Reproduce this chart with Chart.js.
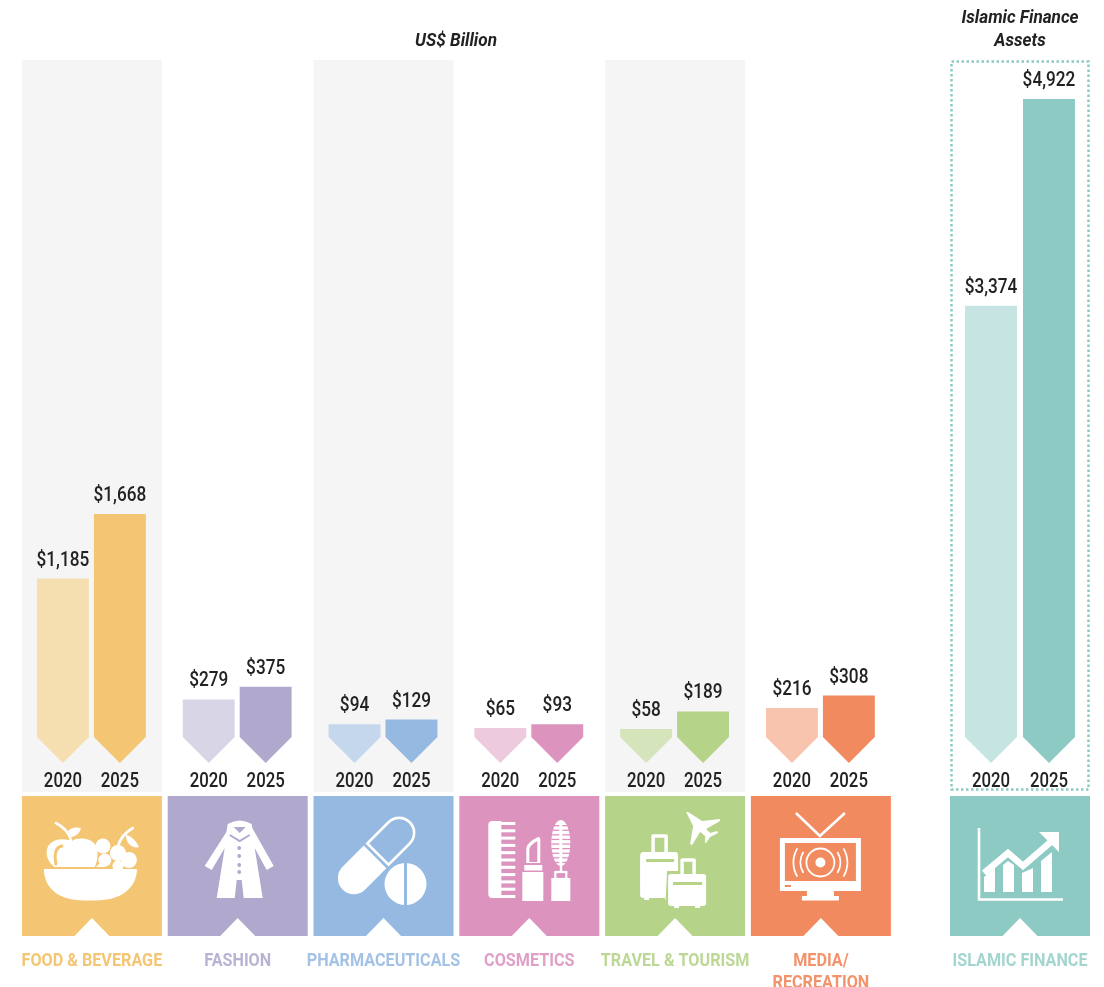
<!DOCTYPE html>
<html lang="en">
<head>
  <meta charset="UTF-8">
  <title>Halal economy spend and Islamic finance assets</title>
  <script src="https://cdn.jsdelivr.net/npm/chart.js"></script>
  <style>
    html, body { margin: 0; padding: 0; background: #fff; }
    body { position: relative; width: 1104px; height: 987px; overflow: hidden; }
    canvas { position: absolute; top: 0; }
    #sectorChart { left: 0; }
    #financeChart { left: 905px; }
  </style>
</head>
<body>
  <canvas id="sectorChart" width="905" height="987"></canvas>
  <canvas id="financeChart" width="199" height="987"></canvas>

  <script>
    // Data
    const sectorNames = ['FOOD & BEVERAGE', 'FASHION', 'PHARMACEUTICALS', 'COSMETICS', 'TRAVEL & TOURISM', 'MEDIA/|RECREATION'];
    const sector2020 = [1185, 279, 94, 65, 58, 216];
    const sector2025 = [1668, 375, 129, 93, 189, 308];
    const financeNames = ['ISLAMIC FINANCE'];
    const finance2020 = [3374];
    const finance2025 = [4922];
    const years = ['2020', '2025'];

    // Colours per sector
    const sectorDark = ['#f4c572', '#b0a9cd', '#96b9e2', '#dc94bf', '#b5d389', '#f28a5f'];
    const sectorLight = ['#f5dfb0', '#d8d5e6', '#c4d7ed', '#eecade', '#d5e4bb', '#f8c4ae'];
    const financeDark = ['#8ccac3'];
    const financeLight = ['#c6e5e2'];
    const sectorText = ['#f4c572', '#b9b3d3', '#a3c2e6', '#e09fc6', '#bdd796', '#f3936b'];
    const financeText = ['#a3d5cf'];

    const TEXT = '#222222';

    // squeezed text, Roboto Condensed is not available here
    function label(ctx, text, x, y, font, color, squeeze) {
      ctx.save();
      ctx.font = font;
      ctx.fillStyle = color;
      ctx.textAlign = 'center';
      ctx.textBaseline = 'alphabetic';
      ctx.translate(x, y);
      ctx.scale(squeeze, 1);
      ctx.fillText(text, 0, 0);
      ctx.restore();
    }

    function fillPath(ctx, d) { ctx.fill(new Path2D(d)); }
    function circle(ctx, x, y, r) { ctx.beginPath(); ctx.arc(x, y, r, 0, Math.PI * 2); ctx.fill(); }
    function line(ctx, pts, w) {
      ctx.lineWidth = w;
      ctx.beginPath();
      pts.forEach((p, i) => i ? ctx.lineTo(p[0], p[1]) : ctx.moveTo(p[0], p[1]));
      ctx.stroke();
    }

    // Tile icons, coordinates are local to the 140x140 tile
    const icons = [
      function bowl(ctx, bg) {
        fillPath(ctx, 'M22,73 H115 C115,90 102,100 88,103 C75,105 60,105 48,103 C34,100 22,90 22,73 Z');
        fillPath(ctx, 'M33,71 C24,66 22,52 29,47 C35,42 44,43 50,45 C56,41 68,42 73,48 C77,55 76,64 73,71 Z');
        ctx.strokeStyle = bg; ctx.lineCap = 'round';
        ctx.beginPath(); ctx.moveTo(40,50); ctx.quadraticCurveTo(31,52, 34,68); ctx.lineWidth = 3; ctx.stroke();
        ctx.strokeStyle = '#fff';
        ctx.beginPath(); ctx.moveTo(34,27); ctx.quadraticCurveTo(46,33, 49,44); ctx.lineWidth = 2.6; ctx.stroke();
        fillPath(ctx, 'M46,35 C50,31 54,31 59,32 C58,38 52,41 49,41 Z');
        ctx.beginPath(); ctx.moveTo(96,50); ctx.quadraticCurveTo(100,38, 111,32); ctx.lineWidth = 2.6; ctx.stroke();
        fillPath(ctx, 'M104,39 C110,40 115,46 117,51 C111,53 104,48 104,39 Z');
        [[81,50,7.5],[96,57,8],[107,64,8],[83,64,6.5],[96,70,5.5]].forEach(g => {
          circle(ctx, g[0], g[1], g[2]);
        });
        fillPath(ctx, 'M74,71 L79,66 L84,71 Z');
      },
      function coat(ctx, bg) {
        fillPath(ctx, 'M60,34 L37,70 L44,74 L57,52 L49,102 H67 L69,84 H74 L76,102 H95 L87,52 L99,74 L106,70 L84,31 L78,37 H66 Z');
        fillPath(ctx, 'M60,28 Q72,21 84,28 L86,42 L72,49 L58,42 Z');
        ctx.fillStyle = bg;
        fillPath(ctx, 'M66,31 H78 L72,37 Z');
        ctx.strokeStyle = bg; ctx.lineWidth = 2;
        line(ctx, [[62,39],[72,45],[82,39]], 2);
        ctx.fillStyle = bg;
        [52,60,69,76].forEach(y => circle(ctx, 71.5, y, 1.9));
      },
      function pill(ctx, bg) {
        ctx.save();
        ctx.translate(63, 59.5);
        ctx.rotate(-Math.PI / 4);
        // lower half filled
        ctx.beginPath();
        ctx.moveTo(-2, -16); ctx.lineTo(-32, -16);
        ctx.arc(-32, 0, 16, -Math.PI / 2, Math.PI / 2, true);
        ctx.lineTo(-2, 16); ctx.closePath(); ctx.fill();
        // upper half outlined
        ctx.strokeStyle = '#fff'; ctx.lineWidth = 2.6;
        ctx.beginPath();
        ctx.moveTo(2, -15); ctx.lineTo(32, -15);
        ctx.arc(32, 0, 15, -Math.PI / 2, Math.PI / 2);
        ctx.lineTo(2, 15); ctx.closePath(); ctx.stroke();
        ctx.restore();
        circle(ctx, 92, 88, 21);
        ctx.fillStyle = bg;
        ctx.fillRect(90.5, 66, 3, 44);
      },
      function cosmetics(ctx, bg) {
        // comb
        fillPath(ctx, 'M33,25 H42 V102 H33 Q29,102 29,98 V29 Q29,25 33,25 Z');
        ctx.fillStyle = '#fff';
        for (let i = 0; i < 11; i++) ctx.fillRect(41, 26 + i * 7.3, 15, 3);
        // lipstick
        ctx.fillRect(63, 76, 21, 29);
        ctx.fillRect(65, 69, 18, 5.5);
        fillPath(ctx, 'M67,67 V52 Q68,46 79,41 Q81,41 81,44 V67 Z');
        ctx.fillStyle = bg;
        fillPath(ctx, 'M70,66 V53 Q71,49 78,45 V66 Z');
        ctx.fillStyle = '#fff';
        // mascara
        ctx.fillRect(92, 82, 19, 23);
        ctx.strokeStyle = '#fff'; ctx.lineWidth = 2.2;
        ctx.strokeRect(96, 76, 11, 7);
        ctx.fillRect(100.5, 68, 2.4, 9);
        ctx.beginPath(); ctx.ellipse(101.5, 47, 9.5, 23, 0, 0, Math.PI * 2); ctx.fill();
        ctx.fillStyle = bg;
        for (let i = 0; i < 9; i++) {
          ctx.fillRect(92, 29 + i * 4.6, 8, 1.3);
          ctx.fillRect(103, 29 + i * 4.6, 9, 1.3);
        }
      },
      function travel(ctx, bg) {
        ctx.strokeStyle = '#fff'; ctx.lineWidth = 3.5; ctx.lineJoin = 'round';
        ctx.strokeRect(48, 40, 13, 18);
        fillPath(ctx, 'M38,56 H70 Q73,56 73,60 V99 Q73,102 70,102 H38 Q35,102 35,99 V60 Q35,56 38,56 Z');
        ctx.fillRect(39, 102, 5, 2); ctx.fillRect(60, 102, 5, 2);
        ctx.fillStyle = bg;
        ctx.fillRect(41, 63, 28, 3);
        fillPath(ctx, 'M62,75 H104 V114 H60 Z');
        ctx.fillStyle = '#fff';
        ctx.strokeRect(77, 64, 12, 16);
        fillPath(ctx, 'M66,78 H98 Q101,78 101,81 V107 Q101,110 98,110 H66 Q63,110 63,107 V81 Q63,78 66,78 Z');
        ctx.fillRect(69, 110, 5, 2); ctx.fillRect(90, 110, 5, 2);
        ctx.fillStyle = bg;
        ctx.fillRect(68, 86, 29, 3);
        ctx.fillStyle = '#fff';
        fillPath(ctx, 'M81,16 L83,16 L97,25 L115,23 L115,25 L101,33 L105,37 L112,35 L113,37 L105,41 L101,47 L100,47 L100,40 L95,36 L87,49 L85,48 L88,30 Z');
      },
      function tv(ctx, bg) {
        ctx.strokeStyle = '#fff'; ctx.lineCap = 'butt';
        line(ctx, [[45,17],[69,40],[94,17]], 2.6);
        ctx.fillRect(29, 42, 81, 53);
        ctx.fillRect(56, 95, 27, 5);
        ctx.fillRect(51, 100, 37, 4.5);
        ctx.fillStyle = bg;
        ctx.fillRect(34, 47, 71, 38);
        ctx.fillRect(34, 89, 6, 2);
        ctx.fillStyle = '#fff';
        ctx.lineWidth = 1.8;
        ctx.beginPath(); ctx.arc(69.5, 66.5, 14, 0, Math.PI * 2); ctx.stroke();
        circle(ctx, 69.5, 66.5, 5);
        [[0.55, 20], [0.55, 27]].forEach(a => {
          ctx.beginPath(); ctx.arc(69.5, 66.5, a[1], -a[0], a[0]); ctx.stroke();
          ctx.beginPath(); ctx.arc(69.5, 66.5, a[1], Math.PI - a[0], Math.PI + a[0]); ctx.stroke();
        });
      }
    ];

    function financeIcon(ctx, bg) {
      ctx.strokeStyle = '#fff'; ctx.lineJoin = 'miter'; ctx.lineCap = 'butt';
      line(ctx, [[29,32],[29,103.5],[113,103.5]], 2.6);
      fillPath(ctx, 'M34,96 V81 L45,72 V96 Z');
      fillPath(ctx, 'M53,96 V69 L58,65 L64,69 V96 Z');
      fillPath(ctx, 'M72,96 V77 L83,72 V96 Z');
      fillPath(ctx, 'M91,96 V65 L102,56 V96 Z');
      line(ctx, [[34,77],[58,57],[73,70],[103,44]], 6.5);
      fillPath(ctx, 'M89,36 H109 V56 Z');
    }

    // Panels, tiles, bars and captions for one chart
    const infographic = {
      id: 'infographic',
      beforeDraw(chart, args, opts) {
        const ctx = chart.ctx, area = chart.chartArea, x = chart.scales.x;
        const tileTop = area.bottom + 4, tileH = 140;
        chart.data.labels.forEach((name, i) => {
          const cx = x.getPixelForValue(i) + opts.tileShift, left = cx - 70;
          if (opts.dotted) {
            ctx.save();
            ctx.strokeStyle = opts.dark[i]; ctx.lineWidth = 2.5; ctx.setLineDash([2.5, 2.5]);
            ctx.strokeRect(left + 1.5, area.top + 1.5, 137, area.bottom - area.top - 4);
            ctx.restore();
          } else if (i % 2 === 0) {
            ctx.fillStyle = '#f5f5f5';
            ctx.fillRect(left, area.top, 140, area.bottom - area.top);
          }
          // tile with the notch at its foot
          ctx.fillStyle = opts.dark[i];
          ctx.beginPath();
          ctx.moveTo(left, tileTop);
          ctx.lineTo(left + 140, tileTop);
          ctx.lineTo(left + 140, tileTop + tileH);
          ctx.lineTo(cx + 17.5, tileTop + tileH);
          ctx.lineTo(cx, tileTop + tileH - 18);
          ctx.lineTo(cx - 17.5, tileTop + tileH);
          ctx.lineTo(left, tileTop + tileH);
          ctx.closePath();
          ctx.fill();
          // icon
          ctx.save();
          ctx.translate(left, tileTop);
          ctx.fillStyle = '#fff';
          ctx.strokeStyle = '#fff';
          opts.icons[i](ctx, opts.dark[i]);
          ctx.restore();
          // sector name
          name.split('|').forEach((part, k) => {
            label(ctx, part, cx, 966 + k * 22, '700 18.6px Roboto', opts.text[i], 0.87);
          });
        });
        opts.titles.forEach(t => label(ctx, t.text, t.x, t.y, 'italic 700 17.5px Roboto', TEXT, 0.98));
      },
      beforeDatasetDraw(chart, args, opts) {
        const ctx = chart.ctx, meta = args.meta, area = chart.chartArea;
        const shoulder = area.bottom - 55, tip = area.bottom - 29;
        meta.data.forEach((bar, i) => {
          const half = bar.width / 2;
          ctx.fillStyle = meta._dataset.backgroundColor[i];
          ctx.beginPath();
          ctx.moveTo(bar.x - half, bar.y);
          ctx.lineTo(bar.x + half, bar.y);
          ctx.lineTo(bar.x + half, shoulder);
          ctx.lineTo(bar.x, tip);
          ctx.lineTo(bar.x - half, shoulder);
          ctx.closePath();
          ctx.fill();
        });
        return false;
      },
      afterDatasetsDraw(chart) {
        const ctx = chart.ctx, area = chart.chartArea;
        chart.data.datasets.forEach((ds, d) => {
          chart.getDatasetMeta(d).data.forEach((bar, i) => {
            const text = '$' + ds.data[i].toLocaleString('en-US');
            label(ctx, text, bar.x, bar.y - 13, '500 20px Roboto', TEXT, 0.86);
            label(ctx, ds.label, bar.x, area.bottom - 5, '500 19.5px Roboto', TEXT, 0.86);
          });
        });
      }
    };

    function barOptions(yMin, yMax, padding, plugin) {
      return {
        responsive: false,
        animation: false,
        layout: { padding: padding },
        plugins: { legend: { display: false }, tooltip: { enabled: false }, infographic: plugin },
        scales: {
          x: { display: false },
          y: { display: false, min: yMin, max: yMax }
        }
      };
    }

    new Chart(document.getElementById('sectorChart'), {
      type: 'bar',
      plugins: [infographic],
      data: {
        labels: sectorNames,
        datasets: [
          { label: years[0], data: sector2020, backgroundColor: sectorLight, categoryPercentage: 0.781, barPercentage: 0.912 },
          { label: years[1], data: sector2025, backgroundColor: sectorDark, categoryPercentage: 0.781, barPercentage: 0.912 }
        ]
      },
      options: barOptions(-414, 5069, { left: 18.5, right: 11.7, top: 60, bottom: 195 }, {
        dark: sectorDark, text: sectorText, icons: icons, tileShift: 0.5, dotted: false,
        titles: [{ text: 'US$ Billion', x: 456, y: 46 }]
      })
    });

    new Chart(document.getElementById('financeChart'), {
      type: 'bar',
      plugins: [infographic],
      data: {
        labels: financeNames,
        datasets: [
          { label: years[0], data: finance2020, backgroundColor: financeLight, categoryPercentage: 0.84, barPercentage: 0.897 },
          { label: years[1], data: finance2025, backgroundColor: financeDark, categoryPercentage: 0.84, barPercentage: 0.897 }
        ]
      },
      options: barOptions(-262, 5213, { left: 46, right: 15, top: 60, bottom: 195 }, {
        dark: financeDark, text: financeText, icons: [financeIcon], tileShift: 0, dotted: true,
        titles: [{ text: 'Islamic Finance', x: 115, y: 23 }, { text: 'Assets', x: 115, y: 46 }]
      })
    });
  </script>
</body>
</html>
